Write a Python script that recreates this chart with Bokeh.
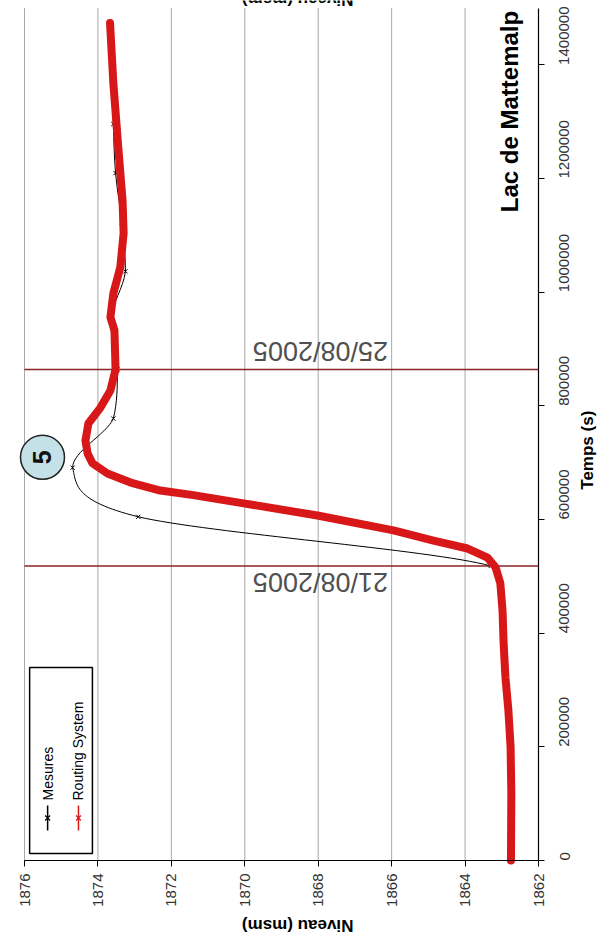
import math
import numpy as np
from bokeh.plotting import figure
from bokeh.models import (Range1d, FixedTicker, BasicTickFormatter, Label,
                          BoxAnnotation)
from bokeh.embed import file_html
from bokeh.resources import INLINE

# ---------------- data ----------------
level_ticks = [1862, 1864, 1866, 1868, 1870, 1872, 1874, 1876]
time_ticks = [0, 200000, 400000, 600000, 800000, 1000000, 1200000, 1400000]
level_min, level_max = 1862, 1876
time_min, time_max = 0, 1500000

# Mesures: daily measurements (s, m a.s.l.)
mes_t = [0, 86400, 172800, 259200, 345600, 432000, 518400, 604800, 691200,
         777600, 864000, 950400, 1036800, 1123200, 1209600, 1296000, 1382400,
         1468800]
mes_level = [1862.75, 1862.76, 1862.78, 1862.83, 1862.93, 1862.97, 1863.30,
             1872.90, 1874.69, 1873.58, 1873.47, 1873.66, 1873.25, 1873.35,
             1873.52, 1873.58, 1873.60, 1873.67]

# Routing System simulation
rout_t = [0, 118000, 199000, 264000, 322000, 382000, 440000, 488000, 516000,
          533000, 549000, 563000, 581000, 607000, 628500, 643000, 651000,
          665000, 681000, 699000, 716000, 739000, 769000, 797000, 827000,
          864000, 933000, 956000, 998000, 1044000, 1104000, 1162000, 1250000,
          1368000, 1473600]
rout_level = [1862.75, 1862.74, 1862.76, 1862.82, 1862.90, 1862.95, 1862.98,
              1863.04, 1863.17, 1863.39, 1863.93, 1864.86, 1865.95, 1868.02,
              1870.03, 1871.40, 1872.30, 1873.11, 1873.74, 1874.15, 1874.28,
              1874.34, 1874.26, 1873.93, 1873.66, 1873.52, 1873.55, 1873.66,
              1873.58, 1873.39, 1873.30, 1873.33, 1873.44, 1873.58, 1873.67]

date_t = [518400, 864000]
date_labels = ["21/08/2005", "25/08/2005"]

title_text = "Lac de Mattemalp"
series_names = ["Mesures", "Routing System"]
callout_text = "5"
x_title = "Temps (s)"
y_title = "Niveau (msm)"

FONT = "Liberation Sans"
RED = "#d81818"
DATE_COLOR = "#8b2525"
GRID = "#a8a8a8"

# ---------------- figure ----------------
# The whole canvas is the frame; axes are pinned at fixed locations so that
# the rotated texts around the plot area can be drawn freely.
W, H = 600, 936
px_per_m = 514 / 14.0          # level scale
s_per_px = 1400000 / 795.6     # time scale
p = figure(width=W, height=H,
           x_range=Range1d(1876 + 24 / px_per_m, 1876 - (W - 24) / px_per_m),
           y_range=Range1d(-(H - 860) * s_per_px, 860 * s_per_px),
           y_axis_location="right", x_axis_location="below",
           output_backend="svg", toolbar_location=None,
           min_border=0, min_border_left=0, min_border_right=0,
           min_border_top=0, min_border_bottom=0)
p.outline_line_color = None
p.background_fill_color = "white"
p.xgrid.grid_line_color = None
p.ygrid.grid_line_color = None

xa = p.xaxis[0]
ya = p.yaxis[0]
xa.fixed_location = time_min
ya.fixed_location = level_min
xa.bounds = (level_min, level_max)
ya.bounds = (time_min, time_max)
for ax, ticks in ((xa, level_ticks), (ya, time_ticks)):
    ax.ticker = FixedTicker(ticks=ticks)
    ax.major_label_orientation = math.pi / 2
    ax.axis_line_color = "black"
    ax.axis_line_width = 1.2
    ax.major_tick_line_color = "black"
    ax.major_tick_out = 6
    ax.major_tick_in = 0
    ax.minor_tick_line_color = None
    ax.major_label_text_font = FONT
    ax.major_label_text_font_size = "15px"
    ax.major_label_text_color = "#333333"
xa.major_label_standoff = 7
ya.major_label_standoff = 20
ya.formatter = BasicTickFormatter(use_scientific=False)

# vertical grid lines (level gridlines), limited to the plot area
grid_levels = [v for v in level_ticks if v != level_min]
p.segment(x0=grid_levels, y0=[time_min] * len(grid_levels),
          x1=grid_levels, y1=[time_max] * len(grid_levels),
          line_color=GRID, line_width=1)

# date lines
p.segment(x0=[level_max] * len(date_t), y0=date_t,
          x1=[level_min] * len(date_t), y1=date_t,
          line_color=DATE_COLOR, line_width=1.5)

# legend box
legend_box = BoxAnnotation(left=1875.86, right=1874.15, bottom=12300, top=339800,
                           fill_color="white", fill_alpha=1.0,
                           line_color="black", line_alpha=1.0, line_width=1.5,
                           level="underlay")
p.add_layout(legend_box)

# Mesures: smoothed line (Bezier through daily points, Excel-like smoothing,
# control points kept inside each segment's level span to avoid overshoot)
mt = np.array(mes_t, dtype=float)
ml = np.array(mes_level, dtype=float)
pt = np.concatenate([[mt[0]], mt, [mt[-1]]])
pl = np.concatenate([[ml[0]], ml, [ml[-1]]])
n = len(mt)
x0 = ml[:-1]; y0 = mt[:-1]
x1 = ml[1:]; y1 = mt[1:]
lo = np.minimum(x0, x1); hi = np.maximum(x0, x1)
cx0 = np.clip(ml[:-1] + (pl[2:n + 1] - pl[0:n - 1]) / 6.0, lo, hi)
cy0 = mt[:-1] + (pt[2:n + 1] - pt[0:n - 1]) / 6.0
cx1 = np.clip(ml[1:] - (pl[3:n + 2] - pl[1:n]) / 6.0, lo, hi)
cy1 = mt[1:] - (pt[3:n + 2] - pt[1:n]) / 6.0
p.bezier(x0=x0, y0=y0, x1=x1, y1=y1, cx0=cx0, cy0=cy0, cx1=cx1, cy1=cy1,
         line_color="black", line_width=1)
p.scatter(mes_level, mes_t, marker="x", size=6, line_color="black", line_width=1)

# Routing System: thick red line
p.line(rout_level, rout_t, line_color=RED, line_width=8, line_join="round",
       line_cap="round")

# callout "5"
callout_x, callout_y = 1875.51, 709500
p.scatter([callout_x], [callout_y], marker="circle", size=44,
          fill_color="#c4e1e8", line_color="#222222", line_width=1.5)
p.add_layout(Label(x=callout_x, y=callout_y, text=callout_text, angle=math.pi / 2,
                   text_align="center", text_baseline="middle",
                   text_font=FONT, text_font_size="25px", text_font_style="bold",
                   text_color="#111111"))

# date labels (upside-down)
date_label_x = 1867.94
date_label_y = [489400, 896100]
for txt, yy in zip(date_labels, date_label_y):
    p.add_layout(Label(x=date_label_x, y=yy, text=txt, angle=math.pi,
                       text_align="center", text_baseline="middle",
                       text_font=FONT, text_font_size="27px",
                       text_color="#505050"))

# chart title
p.add_layout(Label(x=1862.79, y=1318000, text=title_text, angle=math.pi / 2,
                   text_align="center", text_baseline="middle",
                   text_font=FONT, text_font_size="24px", text_font_style="bold",
                   text_color="black"))

# axis titles
p.add_layout(Label(x=1860.66, y=722000, text=x_title, angle=math.pi / 2,
                   text_align="center", text_baseline="middle",
                   text_font=FONT, text_font_size="17px", text_font_style="bold",
                   text_color="black"))
p.add_layout(Label(x=1868.56, y=-114000, text=y_title, angle=math.pi,
                   text_align="center", text_baseline="middle",
                   text_font=FONT, text_font_size="17px", text_font_style="bold",
                   text_color="black"))
# partially visible duplicate at the very top edge
p.add_layout(Label(x=1868.56, y=1515000, text=y_title, angle=math.pi,
                   text_align="center", text_baseline="middle",
                   text_font=FONT, text_font_size="17px", text_font_style="bold",
                   text_color="black"))

# legend entries (rotated like the rest of the chart)
leg_x = [1875.37, 1874.53]
leg_colors = ["black", RED]
leg_y0, leg_y1, leg_ym, leg_text_y = 52800, 96800, 74800, 105600
p.segment(x0=leg_x, y0=[leg_y0] * 2, x1=leg_x, y1=[leg_y1] * 2,
          line_color=leg_colors, line_width=1.5)
p.scatter(leg_x, [leg_ym] * 2, marker="x", size=7, line_color=leg_colors,
          line_width=1.2)
for lx, name in zip(leg_x, series_names):
    p.add_layout(Label(x=lx, y=leg_text_y, text=name, angle=math.pi / 2,
                       text_align="left", text_baseline="middle",
                       text_font=FONT, text_font_size="14px", text_color="black"))

open("out.html", "w").write(file_html(p, INLINE))
